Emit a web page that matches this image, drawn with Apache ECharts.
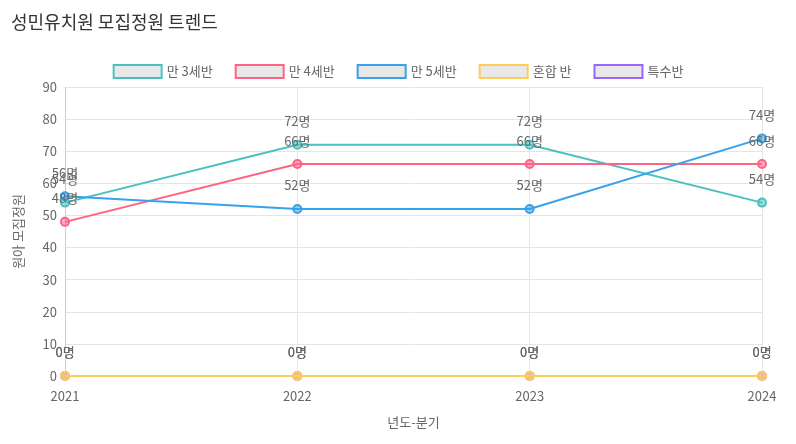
<!DOCTYPE html>
<html><head><meta charset="utf-8">
<script src="https://cdn.jsdelivr.net/npm/echarts@6/dist/echarts.min.js"></script>
<style>html,body{margin:0;padding:0;background:#fff}#c{width:796px;height:444px}</style>
</head><body><div id="c"></div>
<script>
const categories = ['2021','2022','2023','2024'];
const names = ['만 3세반','만 4세반','만 5세반','혼합 반','특수반'];
const age3 = [54,72,72,54];
const age4 = [48,66,66,66];
const age5 = [56,52,52,74];
const mixed = [0,0,0,0];
const special = [0,0,0,0];
const colors = ['#4bc0c0','#ff6384','#36a2eb','#ffcd56','#9966ff'];
const values = [age3,age4,age5,mixed,special];
const F = '"Noto Sans CJK KR","Noto Sans",sans-serif';
const chart = echarts.init(document.getElementById('c'));
chart.setOption({
  title:{text:'성민유치원 모집정원 트렌드',left:6,top:8,textStyle:{fontFamily:F,fontSize:18,fontWeight:'normal',color:'#333'}},
  legend:{top:59,left:'center',itemWidth:48,itemHeight:13,itemGap:22,icon:'rect',
    textStyle:{fontFamily:F,fontSize:13,color:'#666'},
    data:names.map((n,i)=>({name:n,itemStyle:{color:'#e8e8e8',borderColor:colors[i],borderWidth:2}}))},
  grid:{left:65,right:34,top:87,bottom:68},
  xAxis:{type:'category',data:categories,boundaryGap:false,name:'년도-분기',nameLocation:'middle',nameGap:40,
    nameTextStyle:{fontFamily:F,fontSize:13,color:'#666'},
    axisLine:{lineStyle:{color:'#ccc'}},axisTick:{show:false},
    axisLabel:{fontFamily:F,fontSize:13,color:'#666',margin:14},
    splitLine:{show:true,lineStyle:{color:'#e5e5e5'}}},
  yAxis:{type:'value',min:0,max:90,interval:10,name:'원아 모집정원',nameLocation:'middle',nameGap:40,
    nameTextStyle:{fontFamily:F,fontSize:13,color:'#666'},
    axisLine:{show:true,lineStyle:{color:'#ccc'}},
    axisLabel:{fontFamily:F,fontSize:13,color:'#666'},
    splitLine:{lineStyle:{color:'#e5e5e5'}}},
  series:values.map((v,i)=>({name:names[i],type:'line',data:v,z:i===3?5:2,
    symbol:'circle',symbolSize:8,
    lineStyle:{color:colors[i],width:2},
    itemStyle:{color:colors[i]+'80',borderColor:colors[i],borderWidth:2},
    label:{show:true,position:'top',distance:12,formatter:'{c}명',
      fontFamily:F,fontSize:13,color:'#666'}}))
});
</script></body></html>
